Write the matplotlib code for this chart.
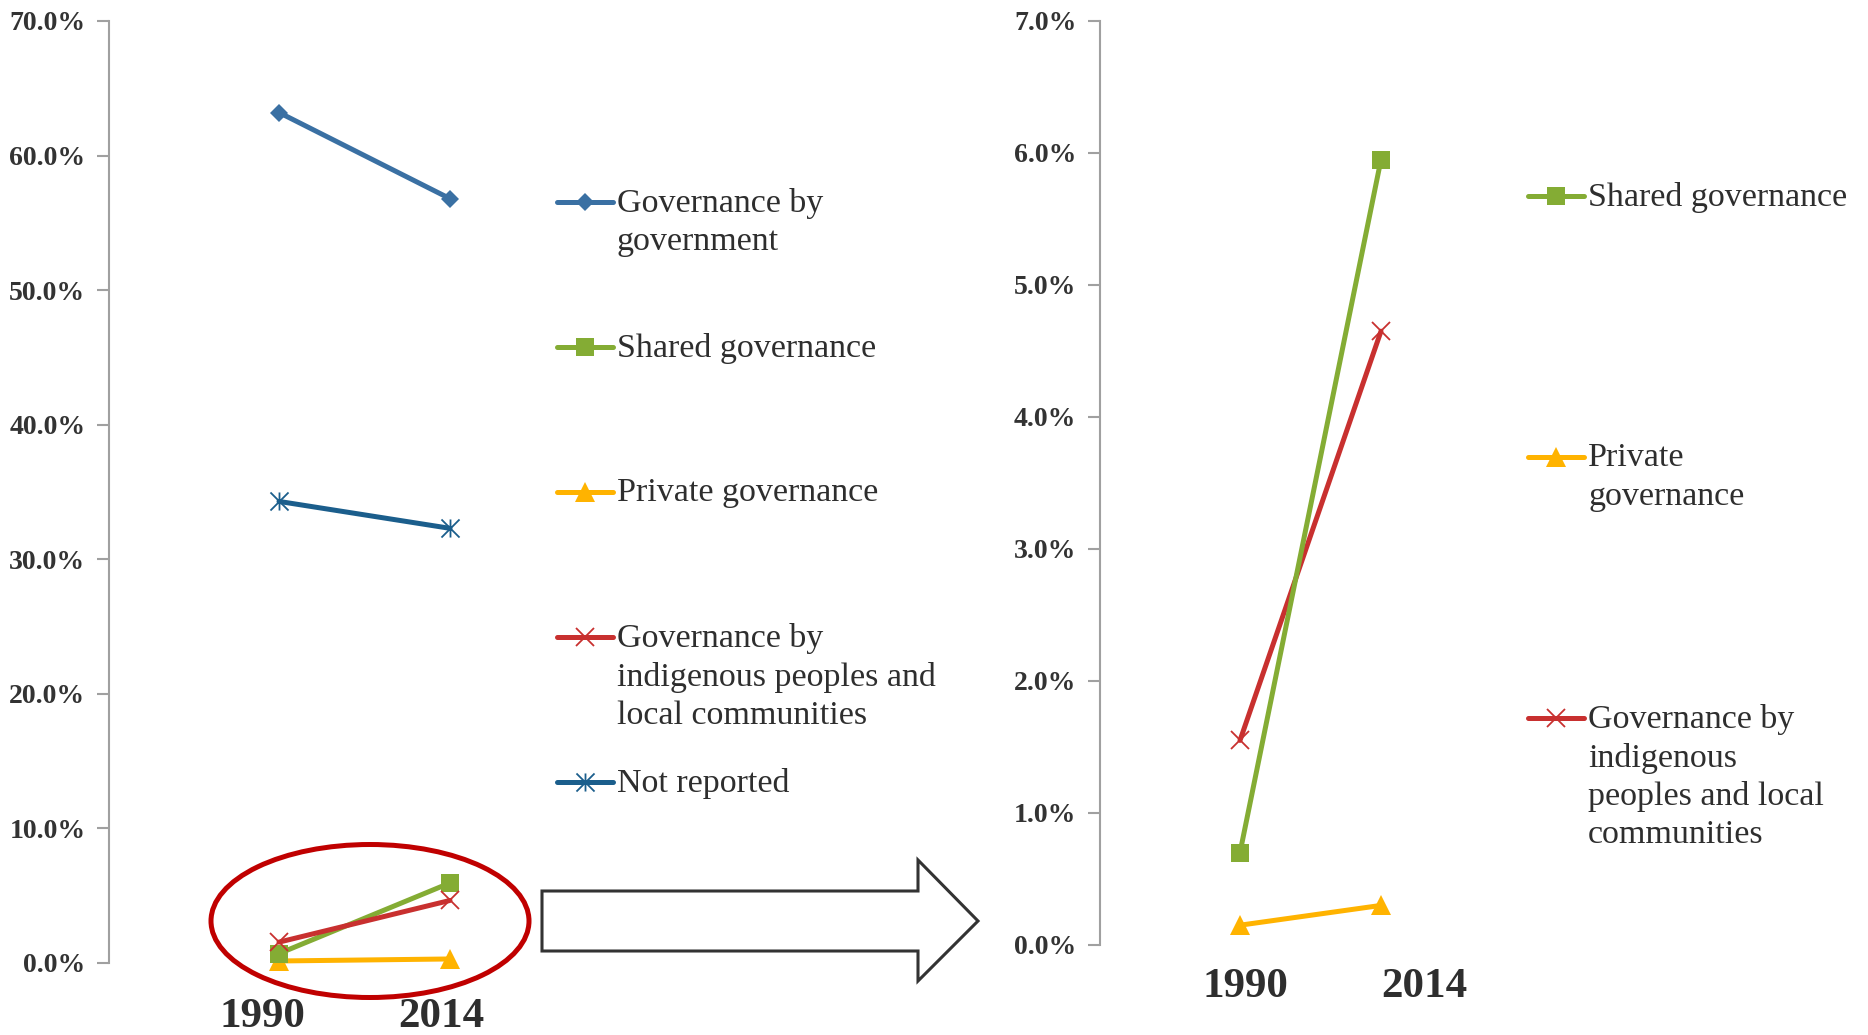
import numpy as np
import matplotlib
matplotlib.use("Agg")
import matplotlib.pyplot as plt
from matplotlib.font_manager import FontProperties
from matplotlib.lines import Line2D
from matplotlib.patches import Ellipse, Polygon
from matplotlib.path import Path
from matplotlib.ticker import FuncFormatter, MultipleLocator

# Share of protected area by governance type, 1990 vs 2014 (%)
years = ["1990", "2014"]
gov_government = [63.2, 56.8]
gov_shared = [0.70, 5.95]
gov_private = [0.15, 0.30]
gov_indigenous = [1.55, 4.65]
not_reported = [34.3, 32.3]

left_labels = ["Governance by\ngovernment", "Shared governance", "Private governance",
               "Governance by\nindigenous peoples and\nlocal communities", "Not reported"]
right_labels = ["Shared governance", "Private\ngovernance",
                "Governance by\nindigenous\npeoples and local\ncommunities"]

W, H = 1868, 1035
fig = plt.figure(figsize=(W / 100, H / 100), dpi=100)

def fx(x):
    return x / W

def fy(y):
    return 1 - y / H

# Excel-style "star": an x with a vertical stroke
star = Path([(-0.5, -0.5), (0.5, 0.5), (-0.5, 0.5), (0.5, -0.5), (0, -0.5), (0, 0.5)],
            [Path.MOVETO, Path.LINETO, Path.MOVETO, Path.LINETO, Path.MOVETO, Path.LINETO])

styles = {
    "gov": dict(color="#3A70A3", marker="D", ms=9.5, mew=0),
    "shared": dict(color="#84AC34", marker="s", ms=13.5, mew=0),
    "private": dict(color="#FFB300", marker="^", ms=14, mew=0),
    "indig": dict(color="#C8302F", marker="x", ms=13, mew=1.3),
    "nr": dict(color="#1B5E8C", marker=star, ms=13, mew=1.3),
}

tick_prop = FontProperties(family="Liberation Serif", weight="bold", size=20)
legend_font = dict(family="Liberation Serif", size=24.5, color="#2E2E2E")
year_font = dict(family="Liberation Serif", weight="heavy", size=31, color="#2E2E2E")


def style_axis(ax, step, fmt):
    for s in ["top", "right", "bottom"]:
        ax.spines[s].set_visible(False)
    ax.spines["left"].set_color("#A0A0A0")
    ax.spines["left"].set_linewidth(1.5)
    ax.yaxis.set_major_locator(MultipleLocator(step))
    ax.yaxis.set_major_formatter(FuncFormatter(lambda v, p: fmt.format(v)))
    ax.tick_params(axis="y", direction="out", length=9, width=1.5, color="#A0A0A0", pad=8)
    for t in ax.get_yticklabels():
        t.set_fontproperties(tick_prop)
        t.set_color("#333333")
    ax.set_xticks([])


def plot_series(ax, values, key):
    st = styles[key]
    ax.plot([0, 1], values, color=st["color"], lw=3.6, marker=st["marker"],
            ms=st["ms"], mew=st["mew"], mec=st["color"], mfc=st["color"],
            solid_capstyle="round", clip_on=False)


def legend_entry(x0, y, key, text):
    st = styles[key]
    line = Line2D([fx(x0), fx(x0 + 28), fx(x0 + 56)], [fy(y)] * 3, transform=fig.transFigure,
                  color=st["color"], lw=3.6, solid_capstyle="round", marker=st["marker"],
                  markevery=[1], ms=st["ms"], mew=st["mew"], mec=st["color"], mfc=st["color"])
    fig.add_artist(line)
    fig.text(fx(x0 + 60), fy(y - 14), text, va="top", ha="left",
             linespacing=1.32, **legend_font)


# Left panel: all governance types, 0-70%
axL = fig.add_axes([fx(109), fy(963), fx(620) - fx(109), fy(21) - fy(963)])
plot_series(axL, gov_government, "gov")
plot_series(axL, not_reported, "nr")
plot_series(axL, gov_private, "private")
plot_series(axL, gov_shared, "shared")
plot_series(axL, gov_indigenous, "indig")
axL.set_ylim(0, 70)
axL.set_xlim((109 - 279) / 171, (620 - 279) / 171)
style_axis(axL, 10, "{:.1f}%")

# Right panel: zoom on the small categories, 0-7%
axR = fig.add_axes([fx(1100), fy(945), fx(1500) - fx(1100), fy(21) - fy(945)])
plot_series(axR, gov_private, "private")
plot_series(axR, gov_indigenous, "indig")
plot_series(axR, gov_shared, "shared")
axR.set_ylim(0, 7)
axR.set_xlim((1100 - 1240) / 141, (1500 - 1240) / 141)
style_axis(axR, 1, "{:.1f}%")

# Year labels
for x, yr in zip([262, 441], years):
    fig.text(fx(x), fy(1017), yr, ha="center", va="center", **year_font)
for x, yr in zip([1245, 1424], years):
    fig.text(fx(x), fy(987), yr, ha="center", va="center", **year_font)

# Legends
for i, (key, lab) in enumerate(zip(["gov", "shared", "private", "indig", "nr"], left_labels)):
    legend_entry(557, 202 + 145 * i, key, lab)
for i, (key, lab) in enumerate(zip(["shared", "private", "indig"], right_labels)):
    legend_entry(1528, 196 + 261 * i, key, lab)

# Highlight ellipse around the small series and the arrow to the zoomed panel
fig.add_artist(Ellipse((fx(370), fy(921)), fx(318), 153 / H, transform=fig.transFigure,
                       fill=False, ec="#C00000", lw=3.6))
arrow_pts = [(542, 891), (918, 891), (918, 860), (978, 921), (918, 981), (918, 951), (542, 951)]
fig.add_artist(Polygon([(fx(x), fy(y)) for x, y in arrow_pts], closed=True,
                       transform=fig.transFigure, fill=False, ec="#333333", lw=2.2,
                       joinstyle="miter"))

fig.savefig("out.png", dpi=100)
